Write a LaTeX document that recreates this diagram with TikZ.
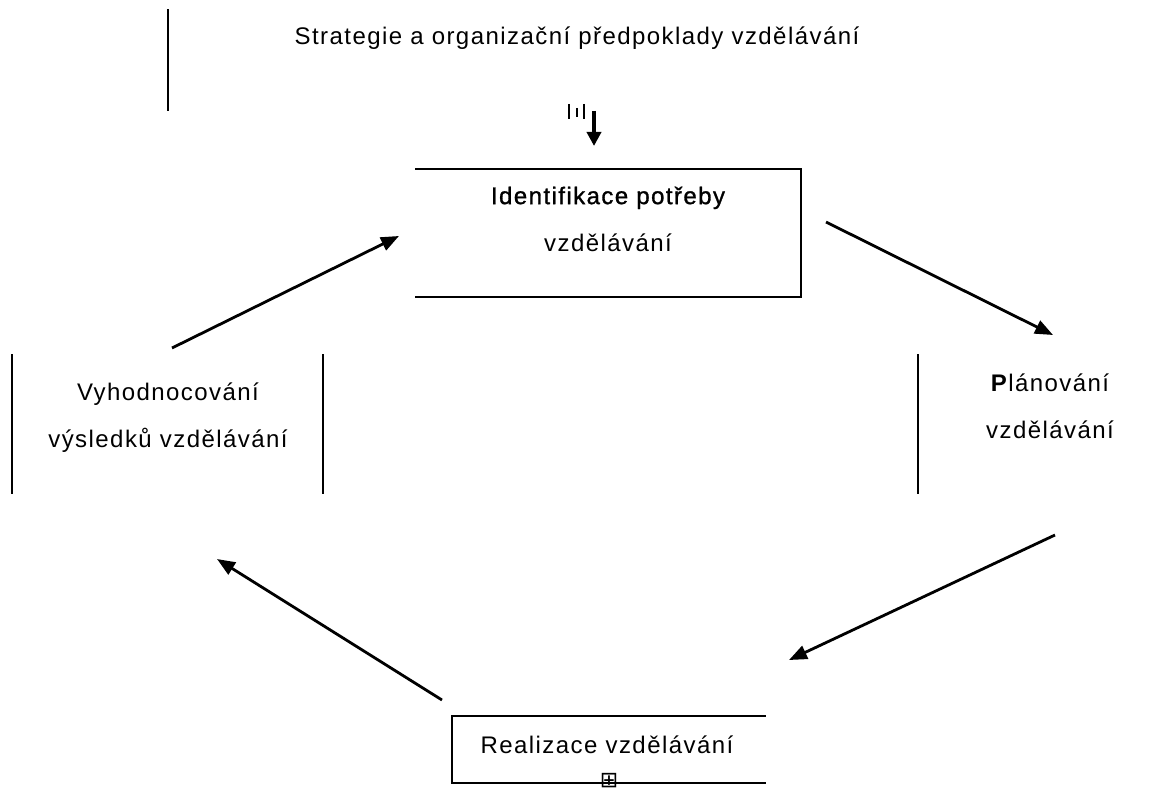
\documentclass[tikz,border=0pt]{standalone}
\usepackage{fontspec}
\setmainfont{Liberation Sans}[LetterSpace=6]
\newfontfamily\symfont{DejaVu Sans}
\usetikzlibrary{arrows.meta}
\begin{document}
\begin{tikzpicture}[x=1pt,y=-1pt,
  lbl/.style={font=\fontsize{24}{47}\selectfont, align=center, inner sep=0pt},
  frame/.style={line width=1.6pt, line cap=rect},
  flow/.style={line width=2.8pt, -{Triangle[length=18pt,width=14pt]}},
  tickline/.style={line width=1.6pt}]
\useasboundingbox (0,0) rectangle (1175,791);

% top: strategy
\draw[frame] (168,10) -- (168,110);
\node[lbl] (title) at (577,38) {Strategie a organizační předpoklady vzdělávání};
\draw[tickline] (569,104) -- (569,119);
\draw[tickline] (577,108) -- (577,117);
\draw[tickline] (584,104) -- (584,119);
\coordinate (dtop) at (594,111);
\coordinate (dbot) at (594,146);
\draw[line width=3.8pt, -{Triangle[length=14pt,width=14pt]}] (dtop) -- (dbot);

% identification box (top, right, bottom sides)
\draw[frame] (416,169) -- (801,169) -- (801,297) -- (416,297);
\node[lbl] (ident) at (608,219) {{\addfontfeature{FakeBold=1.2}Identifikace potřeby}\\vzdělávání};

% planning
\draw[frame] (918,355) -- (918,493);
\node[lbl] (plan) at (1050,406) {\textbf{P}lánování\\vzdělávání};

% realisation box (left, top, bottom)
\draw[frame] (765,716) -- (452,716) -- (452,783) -- (765,783);
\node[lbl] (real) at (607,745) {Realizace vzdělávání};
\node[inner sep=0pt, font=\symfont\fontsize{22}{22}\selectfont] (sym) at (609,781) {⊞};

% evaluation
\draw[frame] (12,355) -- (12,493);
\draw[frame] (323,355) -- (323,493);
\node[lbl] (eval) at (168,418) {Vyhodnocování\\výsledků vzdělávání};

% cycle arrows
\coordinate (a1s) at (826,222);
\coordinate (a1e) at (1053,335);
\coordinate (a2s) at (1055,535);
\coordinate (a2e) at (789,660);
\coordinate (a3s) at (442,700);
\coordinate (a3e) at (217,559);
\coordinate (a4s) at (172,348);
\coordinate (a4e) at (399,236);
\draw[flow] (a1s) -- (a1e);
\draw[flow] (a2s) -- (a2e);
\draw[flow] (a3s) -- (a3e);
\draw[flow] (a4s) -- (a4e);
\end{tikzpicture}
\end{document}
